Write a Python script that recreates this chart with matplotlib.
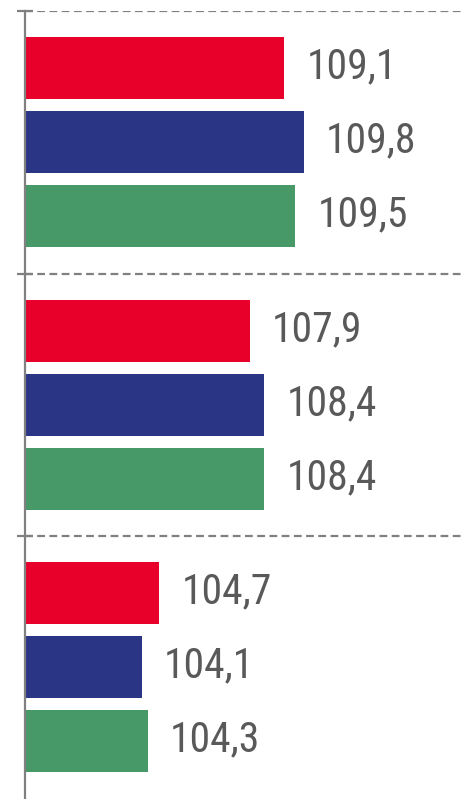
import matplotlib
matplotlib.use("Agg")
import matplotlib.pyplot as plt
import numpy as np

# Values per group, top to bottom
groups = ["A", "B", "C"]
series_red = [109.1, 107.9, 104.7]
series_blue = [109.8, 108.4, 104.1]
series_green = [109.5, 108.4, 104.3]

colors = ["#E8002B", "#2B3585", "#479968"]
base = 100

W, H, DPI = 464, 799, 100
fig = plt.figure(figsize=(W / DPI, H / DPI), dpi=DPI)
ax = fig.add_axes([25.5 / W, 0.5 / H, 1 - 25.5 / W, 787.5 / H])

y = np.arange(len(groups))
bar_h = 0.236
step = 0.282

for k, (vals, col) in enumerate(zip([series_red, series_blue, series_green], colors)):
    pos = y + (k - 1) * step
    widths = [v - base for v in vals]
    ax.barh(pos, widths, left=base, height=bar_h, color=col, zorder=3)
    for p, v in zip(pos, vals):
        ax.annotate(f"{v:.1f}".replace(".", ","), xy=(v, p), xytext=(16, 1),
                    textcoords="offset points", ha="left", va="center",
                    fontsize=30, color="#595959",
                    family=["Roboto Condensed", "Liberation Sans", "DejaVu Sans"])

ax.set_xlim(base, base + (W - 25.5) / 28.42)
ax.set_ylim(len(groups) - 0.5, -0.5)

# dashed separators between groups
ax.set_yticks(y - 0.5)
ax.set_yticklabels([])
ax.grid(axis="y", color="#808080", linestyle=(0, (3.5, 2)), linewidth=1.6, zorder=0)
ax.tick_params(axis="y", direction="inout", length=12, width=1.6, color="#808080")
ax.set_xticks([])

for s in ["top", "right", "bottom"]:
    ax.spines[s].set_visible(False)
ax.spines["left"].set_color("#808080")
ax.spines["left"].set_linewidth(1.6)
ax.spines["left"].set_zorder(4)

fig.savefig("out.png", dpi=DPI)
